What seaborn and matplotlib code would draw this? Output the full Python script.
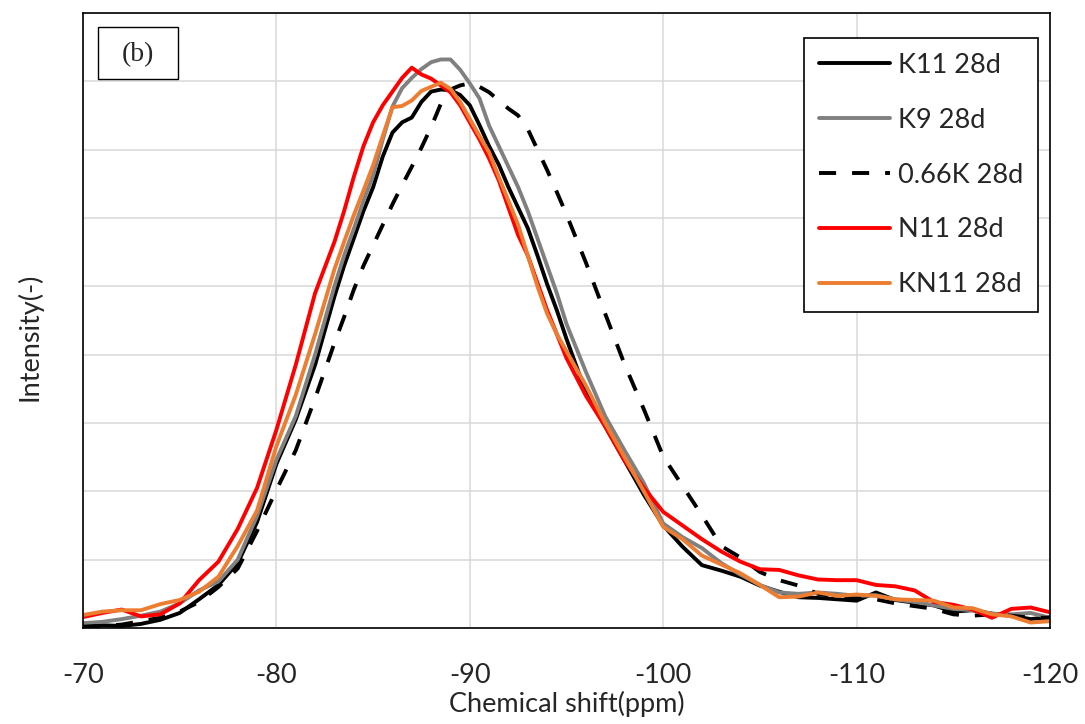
import numpy as np
import pandas as pd
import matplotlib
matplotlib.use("Agg")
import matplotlib.pyplot as plt
from matplotlib.patches import Rectangle
import seaborn as sns

# ---------------- data ----------------
ppm = [-70, -71, -72, -73, -74, -75, -76, -77, -78, -79, -80, -81, -82, -83,
       -83.5, -84, -84.5, -85, -85.5, -86, -86.5, -87, -87.5, -88, -88.5, -89,
       -89.5, -90, -90.5, -91, -91.5, -92, -92.5, -93, -93.5, -94, -94.5, -95,
       -96, -97, -98, -99, -100, -101, -102, -103, -104, -105, -106, -107,
       -108, -109, -110, -111, -112, -113, -114, -115, -116, -117, -118, -119, -120]

k11 = [0.02, 0.04, 0.03, 0.06, 0.12, 0.22, 0.42, 0.63, 0.95, 1.55, 2.40, 3.05, 3.85, 4.85,
       5.30, 5.70, 6.10, 6.45, 6.90, 7.25, 7.40, 7.47, 7.70, 7.85, 7.88, 7.87,
       7.80, 7.65, 7.36, 7.05, 6.78, 6.45, 6.15, 5.85, 5.45, 5.03, 4.65, 4.23,
       3.45, 2.95, 2.45, 1.95, 1.50, 1.19, 0.92, 0.84, 0.75, 0.62, 0.53, 0.45,
       0.44, 0.42, 0.40, 0.52, 0.41, 0.37, 0.33, 0.24, 0.26, 0.21, 0.18, 0.13, 0.16]

k9 = [0.07, 0.09, 0.13, 0.18, 0.24, 0.36, 0.55, 0.68, 1.00, 1.64, 2.46, 3.10, 4.00, 5.00,
      5.45, 5.84, 6.25, 6.62, 7.15, 7.63, 7.90, 8.05, 8.18, 8.28, 8.32, 8.32,
      8.17, 7.97, 7.75, 7.35, 7.05, 6.75, 6.45, 6.10, 5.70, 5.30, 4.90, 4.45,
      3.75, 3.10, 2.60, 2.12, 1.53, 1.33, 1.17, 0.95, 0.78, 0.63, 0.52, 0.50,
      0.52, 0.50, 0.47, 0.48, 0.42, 0.38, 0.33, 0.28, 0.26, 0.21, 0.20, 0.22, 0.15]

k066 = [0.02, 0.03, 0.05, 0.10, 0.15, 0.24, 0.38, 0.60, 0.87, 1.42, 2.02, 2.60, 3.36, 4.17,
        4.55, 4.95, 5.30, 5.60, 5.90, 6.20, 6.48, 6.75, 7.03, 7.33, 7.67, 7.88,
        7.94, 7.97, 7.92, 7.84, 7.72, 7.60, 7.50, 7.30, 7.00, 6.70, 6.38, 6.05,
        5.35, 4.60, 3.86, 3.20, 2.51, 2.08, 1.65, 1.20, 1.03, 0.82, 0.70, 0.62,
        0.50, 0.45, 0.43, 0.42, 0.36, 0.32, 0.28, 0.20, 0.18, 0.20, 0.18, 0.15, 0.15]

n11 = [0.16, 0.22, 0.27, 0.17, 0.20, 0.36, 0.70, 0.97, 1.45, 2.05, 2.90, 3.85, 4.90, 5.65,
       6.10, 6.60, 7.05, 7.40, 7.65, 7.85, 8.05, 8.20, 8.10, 8.04, 7.94, 7.84,
       7.65, 7.40, 7.15, 6.87, 6.55, 6.15, 5.75, 5.45, 5.05, 4.65, 4.30, 3.95,
       3.40, 2.95, 2.45, 2.05, 1.70, 1.50, 1.30, 1.12, 0.97, 0.86, 0.85, 0.77,
       0.71, 0.70, 0.70, 0.63, 0.61, 0.55, 0.38, 0.34, 0.27, 0.15, 0.28, 0.30, 0.23]

kn11 = [0.19, 0.24, 0.26, 0.26, 0.35, 0.41, 0.53, 0.75, 1.20, 1.72, 2.66, 3.41, 4.30, 5.25,
        5.65, 6.04, 6.40, 6.77, 7.20, 7.62, 7.64, 7.72, 7.86, 7.92, 7.98, 7.89,
        7.70, 7.45, 7.20, 6.96, 6.60, 6.25, 5.90, 5.45, 5.00, 4.60, 4.30, 4.05,
        3.55, 3.00, 2.50, 2.00, 1.48, 1.30, 1.06, 0.93, 0.80, 0.63, 0.45, 0.46,
        0.52, 0.47, 0.49, 0.47, 0.42, 0.41, 0.40, 0.30, 0.29, 0.20, 0.17, 0.08, 0.10]

series_names = ["K11 28d", "K9 28d", "0.66K 28d", "N11 28d", "KN11 28d"]
series_values = [k11, k9, k066, n11, kn11]
series_colors = ["#000000", "#808080", "#000000", "#ff0000", "#ed7d31"]
series_styles = ["-", "-", (0, (4.4, 4.1)), "-", "-"]

xticks = [-70, -80, -90, -100, -110, -120]
xtick_labels = ["-70", "-80", "-90", "-100", "-110", "-120"]

# ---------------- style ----------------
sns.set_style("white")
plt.rcParams["font.family"] = ["Lato", "DejaVu Sans"]
plt.rcParams["axes.unicode_minus"] = False

fig = plt.figure(figsize=(10.85, 7.24), dpi=100)
ax = fig.add_axes([83 / 1085, 1 - 628 / 724, 967 / 1085, 615 / 724])

for name, vals, col, ls in zip(series_names, series_values, series_colors, series_styles):
    df = pd.DataFrame({"ppm": ppm, "intensity": vals})
    sns.lineplot(data=df, x="ppm", y="intensity", ax=ax, color=col,
                 linewidth=2.8, linestyle=ls, label=name, sort=False)

ax.set_xlim(-70, -120)
ax.set_ylim(0, 9)
ax.set_xticks(xticks)
ax.set_xticklabels(xtick_labels, fontsize=19.5)
ax.set_yticks(range(0, 10))
ax.set_yticklabels([])
ax.tick_params(axis="both", length=0)
ax.tick_params(axis="x", pad=25)

ax.grid(True, color="#d9d9d9", linewidth=1.1)
ax.set_axisbelow(True)
for s in ax.spines.values():
    s.set_visible(True)
    s.set_color("#000000")
    s.set_linewidth(1.2)

ax.set_xlabel("Chemical shift(ppm)", fontsize=19.5, labelpad=2)
ax.set_ylabel("Intensity(-)", fontsize=19.5)
ax.yaxis.set_label_coords(-0.042, 0.473)

# (b) label box
ax.add_patch(Rectangle((0.0155, 0.8927), 0.0827, 0.0846, transform=ax.transAxes,
                       fill=True, facecolor="white", edgecolor="black",
                       linewidth=1.0, zorder=5))
ax.text(0.057, 0.933, "(b)", transform=ax.transAxes, ha="center", va="center",
        fontsize=20, family="Liberation Serif", zorder=6)

leg = ax.legend(loc="upper right", bbox_to_anchor=(0.9876, 0.9593),
                borderaxespad=0, fontsize=19.5, frameon=True, fancybox=False,
                edgecolor="black", framealpha=1, handlelength=2.6,
                handletextpad=0.3, labelspacing=1.1, borderpad=0.55)
leg.get_frame().set_linewidth(1.2)

fig.savefig("out.png", dpi=100)
